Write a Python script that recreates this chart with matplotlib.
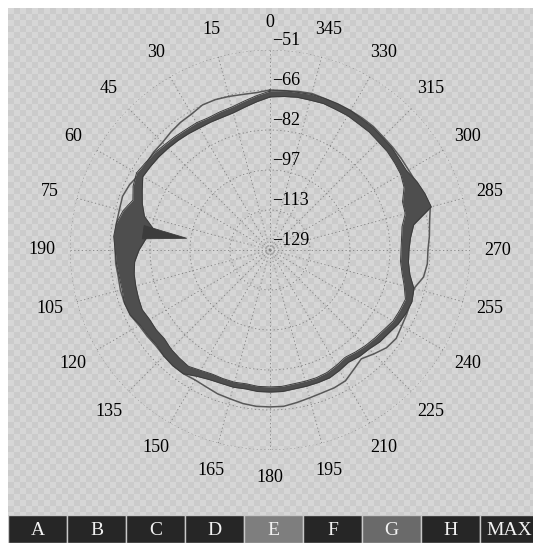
import numpy as np
import matplotlib.pyplot as plt
from matplotlib import transforms
from matplotlib.colors import ListedColormap

plt.rcParams['font.family'] = ['Liberation Serif', 'DejaVu Serif']

# one reading every 5 degrees, counter-clockwise from the top
angles_deg = np.arange(0, 360, 5)

# dark trace, read as an inner and outer edge of the band
dark_low = [-69.3, -70.9, -72.4, -73.6, -74.0, -74.0, -74.0, -73.6, -73.2, -72.8,
            -72.4, -72.1, -71.7, -74.0, -76.0, -78.3, -83.0, -80.3, -77.9, -76.0,
            -75.2, -74.8, -74.4, -74.0, -74.8, -74.8, -75.2, -74.4, -74.0, -73.6,
            -74.8, -75.6, -75.6, -75.6, -76.0, -75.6, -75.6, -75.6, -76.0, -76.0,
            -76.0, -76.3, -77.1, -77.9, -77.1, -76.3, -75.6, -74.8, -73.6, -73.2,
            -72.8, -74.8, -76.7, -77.9, -77.9, -77.5, -76.7, -74.4, -74.0, -71.3,
            -70.1, -69.7, -69.3, -69.3, -68.9, -68.9, -68.5, -68.5, -68.2, -68.5,
            -68.5, -68.9]
dark_high = [-67.0, -68.6, -70.1, -71.3, -71.7, -72.1, -71.7, -71.7, -71.3, -70.9,
             -70.1, -69.7, -68.9, -70.1, -72.1, -69.7, -68.2, -67.8, -68.6, -68.9,
             -69.3, -69.3, -68.6, -68.9, -70.5, -70.9, -71.3, -70.5, -70.1, -70.1,
             -72.1, -73.2, -73.6, -73.6, -74.0, -73.6, -73.6, -73.6, -74.0, -74.0,
             -74.0, -74.0, -74.8, -75.6, -74.8, -74.4, -73.2, -72.5, -71.3, -70.5,
             -70.1, -70.9, -73.6, -74.8, -74.8, -74.0, -72.1, -63.9, -64.7, -65.8,
             -67.4, -67.4, -67.0, -67.0, -66.6, -66.6, -66.2, -66.2, -66.2, -66.2,
             -66.6, -66.6]
# thin trace
thin_trace = [-66.6, -67.4, -67.4, -67.0, -66.6, -66.6, -67.8, -68.2, -68.9, -69.7,
              -69.7, -70.1, -70.1, -68.6, -67.8, -68.2, -68.2, -68.2, -68.6, -68.6,
              -68.9, -68.6, -68.6, -68.9, -70.1, -70.5, -70.9, -70.5, -70.1, -70.1,
              -70.5, -70.1, -69.3, -68.9, -68.2, -67.8, -67.8, -67.8, -68.6, -69.3,
              -69.7, -69.7, -70.1, -72.1, -73.6, -71.7, -69.7, -68.9, -69.7, -70.1,
              -70.5, -70.9, -68.2, -67.4, -67.4, -66.6, -65.8, -64.3, -65.4, -66.2,
              -66.6, -66.6, -66.6, -66.6, -66.2, -66.2, -66.2, -66.2, -66.2, -65.8,
              -66.2, -66.6]

# narrow spike on the left side
spike_deg = [79, 82, 85]
spike_val = [-79.0, -96.2, -79.0]

ring_values = [-129, -113.4, -97.8, -82.2, -66.6, -51]
ring_labels = ["−129", "−113", "−97", "−82", "−66", "−51"]

theta_ticks = np.arange(0, 360, 15)
theta_labels = ["0", "15", "30", "45", "60", "75", "190", "105", "120", "135",
                "150", "165", "180", "195", "210", "225", "240", "255", "270",
                "285", "300", "315", "330", "345"]

bar_labels = ["A", "B", "C", "D", "E", "F", "G", "H", "MAX"]
bar_colors = ["#262626", "#262626", "#262626", "#262626", "#7e7e7e",
              "#262626", "#6a6a6a", "#262626", "#262626"]

fig = plt.figure(figsize=(5.33, 5.43), dpi=100)

# textured grey backdrop
bg = fig.add_axes([8 / 533, 28 / 543, 525 / 533, 507 / 543])
ii, jj = np.indices((507, 525))
checker = ((ii // 6 + jj // 6) % 2)
bg.imshow(checker, cmap=ListedColormap(["#d6d6d6", "#cbcbcb"]),
          aspect="auto", interpolation="nearest")
bg.axis("off")

ax = fig.add_axes([70 / 533, 93 / 543, 400 / 533, 400 / 543], projection="polar")
ax.set_facecolor("none")
ax.set_theta_zero_location("N")
ax.set_theta_direction(1)
ax.set_ylim(-129, -51)

th = np.radians(np.append(angles_deg, 360))
low = np.append(dark_low, dark_low[0])
high = np.append(dark_high, dark_high[0])
thin = np.append(thin_trace, thin_trace[0])

ax.plot(th, thin, color="#585858", lw=1.1, zorder=3)
ax.fill_between(th, low, high, color="#4e4e4e", lw=0, zorder=4)
ax.plot(th, low, color="#3c3c3c", lw=0.7, zorder=4)
ax.plot(th, high, color="#3c3c3c", lw=0.7, zorder=4)
ax.fill(np.radians(spike_deg), spike_val, color="#3c3c3c", lw=0.6, zorder=4)

ax.set_thetagrids(theta_ticks, theta_labels, fontsize=13)
ax.tick_params(axis="x", pad=13, length=0)
ax.set_yticks(ring_values[1:])
ax.set_yticklabels([])
ax.tick_params(axis="y", length=0)
ax.grid(color="#808080", lw=0.6, linestyle=(0, (1.5, 3)))
ax.spines["polar"].set_visible(False)

lab_trans = transforms.offset_copy(ax.transData, fig=fig, x=1.5, y=0.5, units="points")
for v, lab in zip(ring_values, ring_labels):
    ax.text(0, v, lab, ha="left", va="bottom", fontsize=13, transform=lab_trans)

# button strip along the bottom
bar = fig.add_axes([8 / 533, 0, 525 / 533, 28 / 543])
bar.bar(range(len(bar_labels)), 1, width=1, color=bar_colors,
        edgecolor="#c8c8c8", linewidth=1)
for i, lab in enumerate(bar_labels):
    bar.text(i, 0.45, lab, ha="center", va="center", color="#f2f2f2", fontsize=14)
bar.set_xlim(-0.5, -0.5 + 525 / 59)
bar.set_ylim(0, 1)
bar.axis("off")

fig.savefig("out.png", dpi=100)
